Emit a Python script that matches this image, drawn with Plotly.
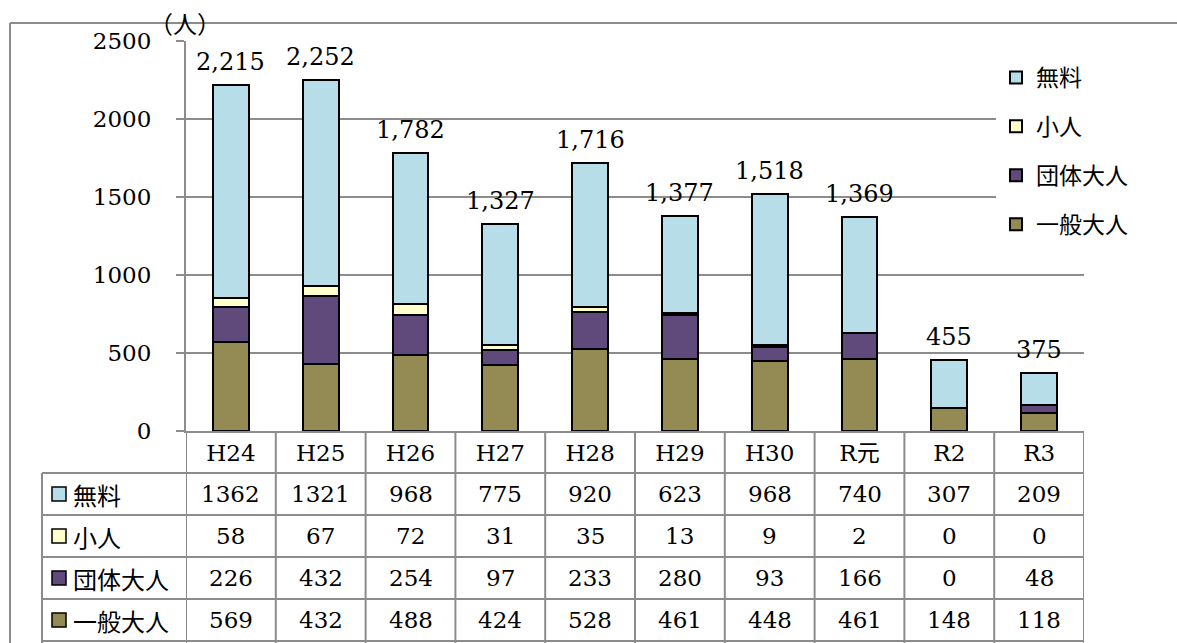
import plotly.graph_objects as go

# data
years = ["H24", "H25", "H26", "H27", "H28", "H29", "H30", "R元", "R2", "R3"]
muryo = [1362, 1321, 968, 775, 920, 623, 968, 740, 307, 209]
kodomo = [58, 67, 72, 31, 35, 13, 9, 2, 0, 0]
dantai = [226, 432, 254, 97, 233, 280, 93, 166, 0, 48]
ippan = [569, 432, 488, 424, 528, 461, 448, 461, 148, 118]

series_names = ["一般大人", "団体大人", "小人", "無料"]
series_values = [ippan, dantai, kodomo, muryo]
series_colors = ["#948A54", "#604A7B", "#FFFFCC", "#B7DDE8"]

totals = [sum(v) for v in zip(*series_values)]

# layout constants (window px)
W, H = 1177, 643
L, R = 186, 1084
T, B = 41, 431
PW, PH = R - L, B - T

SERIF = "DejaVu Serif, Noto Sans CJK JP"
CJK = "Noto Sans CJK JP"
GRID = "#8C8C8C"


def px_x(px):
    return (px - L) / PW


def px_y(py):
    return (B - py) / PH


fig = go.Figure()

for k, (name, vals, col) in enumerate(zip(series_names, series_values, series_colors)):
    fig.add_trace(go.Bar(
        x=years, y=vals, name=name, legendgroup=name, legendrank=len(series_names) - k,
        marker=dict(color=col, line=dict(color="black", width=2)),
        width=0.4,
    ))

shapes = []
annotations = []

# totals on top of the bars
for yr, t in zip(years, totals):
    annotations.append(dict(x=yr, y=t, xref="x", yref="y", text=f"{t:,}", showarrow=False,
                            xanchor="center", yanchor="bottom", yshift=7,
                            font=dict(family=SERIF, size=24, color="black")))

# outer chart frame
shapes.append(dict(type="line", xref="paper", yref="paper", x0=px_x(10), x1=px_x(W + 5),
                   y0=px_y(23), y1=px_y(23), line=dict(color=GRID, width=2)))
shapes.append(dict(type="line", xref="paper", yref="paper", x0=px_x(10), x1=px_x(10),
                   y0=px_y(23), y1=px_y(H + 5), line=dict(color=GRID, width=2)))

# data table below the plot
row_tops = [431, 473, 515, 557, 599, 641]
table_rows = [("無料", muryo, "#B7DDE8"), ("小人", kodomo, "#FFFFCC"),
              ("団体大人", dantai, "#604A7B"), ("一般大人", ippan, "#948A54")]

for i in range(len(years) + 1):
    shapes.append(dict(type="line", xref="x", yref="paper", x0=i - 0.5, x1=i - 0.5,
                       y0=px_y(431), y1=px_y(H + 5), line=dict(color=GRID, width=2)))
shapes.append(dict(type="line", xref="paper", yref="paper", x0=px_x(42), x1=px_x(42),
                   y0=px_y(473), y1=px_y(H + 5), line=dict(color=GRID, width=2)))
for py in row_tops[1:]:
    shapes.append(dict(type="line", xref="paper", yref="paper", x0=px_x(42), x1=1,
                       y0=px_y(py), y1=px_y(py), line=dict(color=GRID, width=2)))

for r, (label, vals, col) in enumerate(table_rows):
    yc = px_y((row_tops[r + 1] + row_tops[r + 2]) / 2)
    shapes.append(dict(type="rect", xref="paper", yref="paper",
                       x0=px_x(52), x1=px_x(66), y0=yc - 7 / PH, y1=yc + 7 / PH,
                       fillcolor=col, line=dict(color="black", width=1.5)))
    annotations.append(dict(x=px_x(71), y=yc, xref="paper", yref="paper", text=label,
                            showarrow=False, xanchor="left", yanchor="middle",
                            font=dict(family=CJK, size=24, color="black")))
    for c, v in enumerate(vals):
        annotations.append(dict(x=years[c], y=yc, xref="x", yref="paper", text=str(v),
                                showarrow=False, xanchor="center", yanchor="middle",
                                font=dict(family=SERIF, size=23, color="black")))

# unit label
annotations.append(dict(x=px_x(185), y=px_y(23), xref="paper", yref="paper", text="（人）",
                        showarrow=False, xanchor="center", yanchor="middle",
                        font=dict(family=CJK, size=24, color="black")))

fig.update_layout(
    barmode="stack",
    width=W, height=H,
    margin=dict(l=L, r=W - R, t=T, b=H - B, pad=0),
    paper_bgcolor="white", plot_bgcolor="white",
    shapes=shapes, annotations=annotations,
    showlegend=True,
    legend=dict(x=px_x(996), y=px_y(56), xanchor="left", yanchor="top",
                traceorder="grouped", tracegroupgap=16, bgcolor="white",
                font=dict(family=CJK, size=23, color="black")),
    font=dict(family=SERIF, color="black"),
)

fig.update_xaxes(
    type="category", range=[-0.5, len(years) - 0.5],
    showline=True, linecolor=GRID, linewidth=2,
    ticks="",
    tickfont=dict(family=SERIF, size=23, color="black"),
    showgrid=False,
)
fig.update_yaxes(
    range=[0, 2500], dtick=500, tickformat="d",
    showline=True, linecolor=GRID, linewidth=2,
    showgrid=True, gridcolor=GRID, gridwidth=2,
    ticks="outside", ticklen=8, tickcolor=GRID, tickwidth=2,
    tickfont=dict(family=SERIF, size=23, color="black"),
    ticklabelstandoff=20, zeroline=False,
)

# drop the default body margin so the figure sits at the window's top-left corner
fig.write_html("out.html", config={"displayModeBar": False},
               post_script="document.body.style.margin = '0';")
